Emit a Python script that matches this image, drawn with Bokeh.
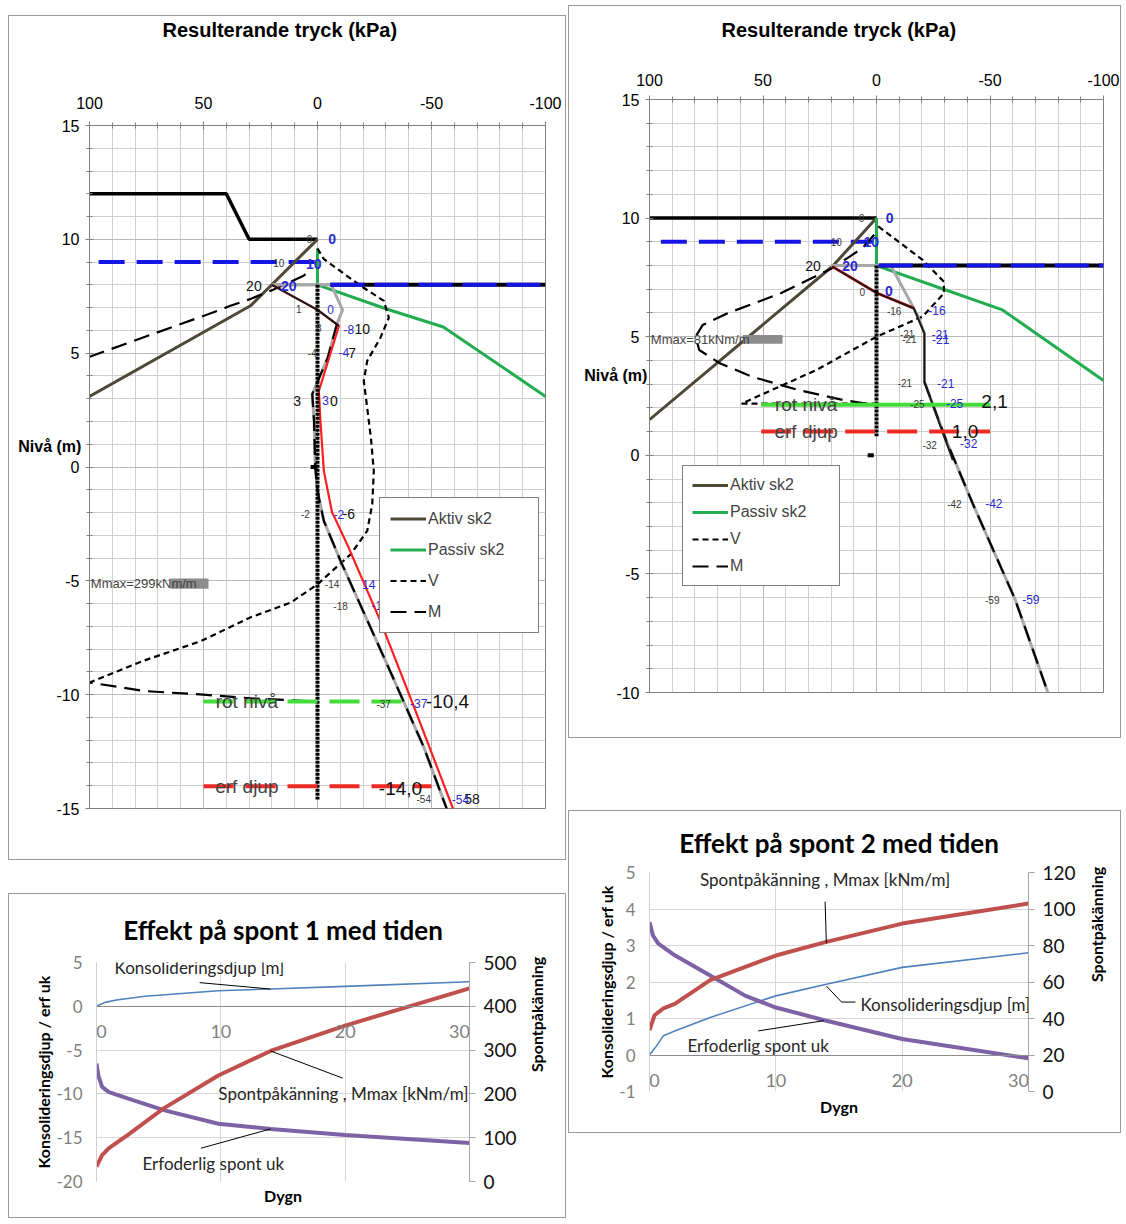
import numpy as np
from bokeh.plotting import figure
from bokeh.models import (Range1d, LinearAxis, SingleIntervalTicker, FixedTicker, Label, Legend,
                          LegendItem, Spacer, Title, NumeralTickFormatter)
from bokeh.layouts import row, column
from bokeh.embed import file_html
from bokeh.resources import INLINE
from bokeh.core.properties import value

# ====================== DATA: spont 1 (top-left) ======================
s1_mark_x = [100, 40, 30, 0]
s1_mark_y = [12, 12, 10, 10]
s1_gwl_x = [96, -1]
s1_gwl_y = [9, 9]
s1_gwr_x = [-5.7, -100]
s1_gwr_y = [8, 8]
s1_exc_x = [20, 0, -6]
s1_exc_y = [8, 8, 8]
s1_aktiv_x = [100, 29.4, 0]
s1_aktiv_y = [3.1, 7.08, 10]
s1_passiv_x = [0, 0, -30.6, -55.2, -100]
s1_passiv_y = [9.6, 8, 6.93, 6.15, 3.1]
s1_v_x = [0, -2.8, -18.9, -29.1, -31.3, -27.6, -21.8, -20.3, -21.8, -23.5, -24.7, -24, -21.8, -14.5, 0.1, 11.8, 29.3, 51, 76, 100, 125]
s1_v_y = [9.6, 9.13, 7.96, 7.3, 6.56, 5.68, 4.66, 3.78, 2.6, 1.2, -0.18, -1.64, -2.81, -3.84, -5.16, -5.96, -6.6, -7.64, -8.5, -9.47, -10.3]
s1_m_x = [5.3, 6.1, 19.2, 29.4, 38.2, 43.3, 98.1, 140, 140, 99.7, 76, 50, 29, 1]
s1_m_y = [8.47, 8.4, 7.8, 7.38, 7.08, 6.88, 4.91, 3.4, -9.3, -9.47, -9.84, -10.0, -10.16, -10.3]
s1_net_x = [20, 0, -6, -11, -8.6, -4.5, 2.3, 1.5, 1, 0, -0.6, -2.8, -10, -32, -46.6, -57]
s1_net_y = [8, 8, 8, 6.9, 6.3, 4.8, 3.2, 2, 0, -1, -1.35, -2.37, -4.1, -9.0, -12.3, -15.1]
s1_res_x = [20, 0, -9.4, -0.6, -1.3, -2.8, -6.4, -7.9, -13.7, -27.6, -40.8, -59.8]
s1_res_y = [8, 6.9, 6.2, 3.34, 2.0, -0.18, -2.0, -2.3, -3.55, -6.77, -10.14, -15.1]
s1_wall_x = [0, 0]
s1_wall_y = [8, -14.6]
s1_toe_x = [3, 0]
s1_toe_y = [0, 0]
s1_rot_x = [50, -42]
s1_rot_y = [-10.3, -10.3]
s1_erf_x = [50, -50]
s1_erf_y = [-14.02, -14.02]
s1_mmax_text = "Mmax=299kNm/m"
s1_mmax_bar = (64.5, 47.8, -4.9, -5.35)

s1_small_t = ["0", "10", "1", "8", "-4", "-2", "-14", "-18", "-37", "-54"]
s1_small_x = [3.5, 17, 8.2, -0.6, 2.3, 5.3, -6.4, -10.1, -29, -46.6]
s1_small_y = [10, 8.95, 6.93, 6.12, 5.02, -2.08, -5.16, -6.1, -10.4, -14.6]
s1_mid_t = ["20", "10", "7", "3", "0", "-6", "58"]
s1_mid_x = [27.9, -19.6, -15.2, 8.9, -7.2, -13.7, -67.8]
s1_mid_y = [7.96, 6.05, 5.02, 2.9, 2.9, -2.08, -14.6]
s1_blueb_t = ["0", "10", "20"]
s1_blueb_x = [-6.4, 1.6, 12.6]
s1_blueb_y = [10, 8.9, 7.96]
s1_blue_t = ["0", "-8", "-4", "3", "-2", "14", "-18", "-37", "-54"]
s1_blue_x = [-5.7, -13.7, -11.5, -3.5, -9.4, -22.5, -27.5, -44.4, -62.7]
s1_blue_y = [6.93, 6.05, 5.02, 2.9, -2.08, -5.16, -6.1, -10.4, -14.6]
s1_big_t = ["-10,4", "-14,0"]
s1_big_x = [-57, -36.4]
s1_big_y = [-10.3, -14.1]

# ====================== DATA: spont 2 (top-right) ======================
s2_mark_x = [100, 0]
s2_mark_y = [10, 10]
s2_gwl_x = [95, 2]
s2_gwl_y = [9, 9]
s2_gwr_x = [-1, -100]
s2_gwr_y = [8, 8]
s2_exc_x = [20, 0, -6.3]
s2_exc_y = [8, 8, 8]
s2_aktiv_x = [100, 19.5, 0]
s2_aktiv_y = [1.5, 7.96, 10]
s2_passiv_x = [0, 0, -30.5, -55.5, -100]
s2_passiv_y = [10, 8, 6.97, 6.13, 3.15]
s2_v_x = [-0.8, -20.3, -29.7, -29.7, -20.3, 0, 26.6, 59.4, 0]
s2_v_y = [9.65, 8.24, 7.32, 6.83, 5.85, 5.0, 3.59, 2.18, 2.18]
s2_m_x = [1, 6.25, 19.5, 42.2, 65.6, 76.6, 79.7, 78.1, 68.8, 54.7, 34.4, 14.1, 4.7]
s2_m_y = [9.3, 8.73, 7.89, 6.83, 5.99, 5.49, 5.0, 4.44, 3.87, 3.31, 2.75, 2.32, 2.18]
s2_net_x = [-6.3, -18, -21.1, -21.1, -30.7, -42.4, -61, -75.5]
s2_net_y = [8, 5.92, 5.14, 3.1, 0.63, -2.04, -6.06, -10]
s2_res_x = [19.5, 0, -16.4]
s2_res_y = [7.96, 6.85, 6.2]
s2_sol_x = [19.5, 0, -16.4, -21.1, -21.1, -33.6]
s2_sol_y = [7.96, 6.85, 6.2, 5.14, 3.1, -0.2]
s2_dash_x = [-21.1, -30.7, -42.4, -61, -75.5]
s2_dash_y = [3.1, 0.63, -2.04, -6.06, -10]
s2_wall_x = [0, 0]
s2_wall_y = [8, 0.8]
s2_toe_x = [3.9, 1.2]
s2_toe_y = [0, 0]
s2_rot_x = [50.8, -50]
s2_rot_y = [2.13, 2.13]
s2_erf_x = [50.8, -50]
s2_erf_y = [1.0, 1.0]
s2_mmax_text = "Mmax=81kNm/m"
s2_mmax_bar = (58.9, 41.4, 5.07, 4.7)

s2_small_t = ["0", "10", "0", "-16", "-21", "-21", "-21", "-25", "-32", "-42", "-59"]
s2_small_x = [6.6, 17.7, 6.3, -7.8, -13.5, -14.5, -12.5, -18, -23.4, -34.3, -51]
s2_small_y = [10, 9.0, 6.9, 6.1, 5.1, 4.9, 3.03, 2.18, 0.42, -2.04, -6.1]
s2_mid_t = ["20"]
s2_mid_x = [28]
s2_mid_y = [7.96]
s2_blueb_t = ["0", "10", "20", "0"]
s2_blueb_x = [-5.8, 2.3, 11.7, -5.5]
s2_blueb_y = [10, 9.0, 7.96, 6.93]
s2_blue_t = ["-16", "-21", "-21", "-21", "-25", "-32", "-42", "-59"]
s2_blue_x = [-26.6, -28, -28.3, -30.5, -34.4, -40.6, -51.7, -68]
s2_blue_y = [6.1, 5.1, 4.9, 3.03, 2.18, 0.5, -2.04, -6.1]
s2_big_t = ["2,1", "1,0"]
s2_big_x = [-52, -39]
s2_big_y = [2.25, 1.0]

# ====================== DATA: time charts ======================
t1_konsol_d = [0, 0.7, 1.6, 3.9, 9.8, 14, 20, 30]
t1_konsol_v = [0, 0.45, 0.72, 1.14, 1.78, 1.97, 2.27, 2.8]
t1_erf_d = [0, 0.15, 0.45, 1.0, 2.5, 5.4, 9.8, 14, 20, 30]
t1_erf_v = [-6.55, -7.9, -9.2, -9.8, -10.5, -11.85, -13.4, -14.0, -14.7, -15.6]
t1_mmax_d = [0, 0.45, 1.0, 2.5, 5.4, 9.8, 14, 20, 30]
t1_mmax_v = [34, 60, 76, 106, 167, 242, 298, 356, 441]

t2_konsol_d = [0, 0.56, 1.1, 2, 4.8, 10, 14, 20, 30]
t2_konsol_v = [0, 0.25, 0.53, 0.66, 1.03, 1.62, 1.94, 2.4, 2.8]
t2_erf_d = [0, 0.28, 0.7, 2, 4.8, 7.6, 10, 14, 20, 30]
t2_erf_v = [3.64, 3.27, 3.05, 2.73, 2.18, 1.62, 1.3, 0.94, 0.44, -0.09]
t2_mmax_d = [0, 0.4, 1.1, 2, 4.8, 10, 14, 20, 30]
t2_mmax_v = [33.6, 41.8, 45.5, 48, 61, 74.5, 82, 92, 103]

# day-axis tick labels (the edge labels sit just inside the plot area so they are not cut)
day_tick_pos = [0.4, 10, 20, 29.2]
day_tick_txt = ["0", "10", "20", "30"]

AX_FONT = "Liberation Sans"
TFONT = "Lato"
C_AKTIV = "#4f4836"
C_PASSIV = "#22ad50"
C_BLUE = "#1414e6"
C_LBLUE = "#2a2ad0"
C_RED = "#ff1e1e"
C_GRAY = "#a8a8a8"
C_GREEN = "#45dc3a"
C_ERF = "#ee2a24"


def try_set(obj, **kw):
    ok = True
    for k, v in kw.items():
        try:
            setattr(obj, k, v)
        except Exception:
            ok = False
    return ok


def pressure_fig(w, h, bl, br, bt, bb, ymin, xstand):
    p = figure(width=w, height=h, x_range=Range1d(100, -100), y_range=Range1d(ymin, 15),
               x_axis_location="above", output_backend="svg", toolbar_location=None,
               min_border_left=bl, min_border_right=br, min_border_top=bt, min_border_bottom=bb,
               title=None)
    try_set(p, frame_align=False)
    p.styles = {"border": "1px solid #9a9a9a"}
    p.outline_line_color = "#808080"
    p.xaxis.ticker = SingleIntervalTicker(interval=50, num_minor_ticks=5)
    p.yaxis.ticker = SingleIntervalTicker(interval=5, num_minor_ticks=5)
    for ax in (p.xaxis[0], p.yaxis[0]):
        ax.formatter = NumeralTickFormatter(format="0")
        ax.axis_line_color = "#808080"
        ax.major_tick_line_color = "#808080"
        ax.minor_tick_line_color = "#808080"
        ax.major_tick_in = 4
        ax.major_tick_out = 4
        ax.minor_tick_in = 3
        ax.minor_tick_out = 3
        ax.major_label_text_font = AX_FONT
        ax.major_label_text_font_size = "16px"
        ax.major_label_text_color = "#000000"
    p.xaxis.major_label_standoff = xstand
    p.yaxis.major_label_standoff = 6
    for g in (p.xgrid[0], p.ygrid[0]):
        g.grid_line_color = "#b8b8b8"
        g.minor_grid_line_color = "#cfcfcf"
    return p


def draw_texts(p, t, x, y, size, color, bold=False):
    p.text(x=x, y=y, text=t, text_font=value(AX_FONT), text_font_size=size,
           text_color=color, text_align="center", text_baseline="middle",
           text_font_style="bold" if bold else "normal")


def pressure_panel(p, d, title_offset, title_text, title_standoff, title_lh, nivaa_standoff,
                   legend_loc, legend_fmt, rot_dash):
    p.line(d["mark_x"], d["mark_y"], line_color="black", line_width=3.5)
    p.line(d["gwl_x"], d["gwl_y"], line_color=C_BLUE, line_width=4, line_dash="26 12")
    ra = p.line(d["aktiv_x"], d["aktiv_y"], line_color=C_AKTIV, line_width=3)
    rp = p.line(d["passiv_x"], d["passiv_y"], line_color=C_PASSIV, line_width=3)
    rv = p.line(d["v_x"], d["v_y"], line_color="black", line_width=2.2, line_dash="6 4")
    rm = p.line(d["m_x"], d["m_y"], line_color="black", line_width=2.2, line_dash="16 8")
    p.line(d["exc_x"], d["exc_y"], line_color=C_GRAY, line_width=3)
    p.line(d["net_x"], d["net_y"], line_color=C_GRAY, line_width=3)
    for k in d["extra"]:
        k(p)
    p.line(d["wall_x"], d["wall_y"], line_color="black", line_width=4, line_dash="3 1")
    p.line(d["toe_x"], d["toe_y"], line_color="black", line_width=4)
    p.line(d["gwr_x"], d["gwr_y"], line_color="black", line_width=4)
    p.line(d["gwr_x"], d["gwr_y"], line_color=C_BLUE, line_width=4, line_dash="34 10")
    p.line(d["rot_x"], d["rot_y"], line_color=C_GREEN, line_width=4, line_dash=rot_dash)
    p.line(d["erf_x"], d["erf_y"], line_color=C_ERF, line_width=4, line_dash="30 12")
    # labels
    draw_texts(p, d["small_t"], d["small_x"], d["small_y"], "10px", "#3a3a3a")
    draw_texts(p, d["mid_t"], d["mid_x"], d["mid_y"], "14px", "#111111")
    draw_texts(p, d["blueb_t"], d["blueb_x"], d["blueb_y"], "14px", C_LBLUE, bold=True)
    draw_texts(p, d["blue_t"], d["blue_x"], d["blue_y"], "12px", C_LBLUE)
    draw_texts(p, d["big_t"], d["big_x"], d["big_y"], "19px", "#111111")
    p.add_layout(Label(x=31, y=d["rot_y"][0], text="rot nivå", text_font=AX_FONT,
                       text_font_size="19px", text_align="center", text_baseline="middle"))
    p.add_layout(Label(x=31, y=d["erf_y"][0], text="erf djup", text_font=AX_FONT,
                       text_font_size="19px", text_align="center", text_baseline="middle"))
    # Mmax
    b = d["mmax_bar"]
    p.quad(left=b[0], right=b[1], top=b[2], bottom=b[3], fill_color="#8c8c8c", line_color=None)
    p.add_layout(Label(x=99.4, y=(b[2] + b[3]) / 2, text=d["mmax_text"], text_font=AX_FONT,
                       text_font_size="13px", text_align="left", text_baseline="middle"))
    # title
    t = Title(text=title_text, align="left", offset=title_offset,
              standoff=title_standoff, text_font=AX_FONT, text_line_height=title_lh,
              text_font_size="20px", text_font_style="bold", text_color="black")
    p.add_layout(t, "above")
    # y axis title (horizontal, sitting above the 0 tick label)
    ya = p.yaxis[0]
    ya.axis_label = "Nivå (m)\n\n"
    ya.axis_label_text_font = AX_FONT
    ya.axis_label_text_font_size = "16px"
    ya.axis_label_text_font_style = "bold"
    ya.axis_label_text_color = "black"
    if try_set(ya, axis_label_orientation="horizontal"):
        ya.axis_label_standoff = nivaa_standoff
    leg = Legend(items=[LegendItem(label="Aktiv sk2", renderers=[ra]),
                        LegendItem(label="Passiv sk2", renderers=[rp]),
                        LegendItem(label="V", renderers=[rv]),
                        LegendItem(label="M", renderers=[rm])],
                 location=legend_loc)
    leg.border_line_color = "black"
    leg.border_line_width = 1
    leg.background_fill_color = "white"
    leg.background_fill_alpha = 1
    leg.label_text_font = AX_FONT
    leg.label_text_font_size = "16px"
    leg.glyph_width = 36
    leg.glyph_height = legend_fmt[0]
    leg.spacing = legend_fmt[1]
    leg.padding = legend_fmt[2]
    leg.label_standoff = 2
    leg.label_width = 100
    leg.margin = 0
    p.add_layout(leg)


# ---- top-left
tl = pressure_fig(558, 845, 80, 22, 109, 53, -15, 13)


def s1_extra(p):
    p.line(s1_net_x[4:], s1_net_y[4:], line_color="black", line_width=2.2, line_dash="16 8")
    p.line(s1_res_x, s1_res_y, line_color=C_RED, line_width=2.2)
    p.line(s1_res_x[:3], s1_res_y[:3], line_color="#1a1a1a", line_width=2)


d1 = dict(mark_x=s1_mark_x, mark_y=s1_mark_y, gwl_x=s1_gwl_x, gwl_y=s1_gwl_y,
          gwr_x=s1_gwr_x, gwr_y=s1_gwr_y, exc_x=s1_exc_x, exc_y=s1_exc_y,
          aktiv_x=s1_aktiv_x, aktiv_y=s1_aktiv_y, passiv_x=s1_passiv_x, passiv_y=s1_passiv_y,
          v_x=s1_v_x, v_y=s1_v_y, m_x=s1_m_x, m_y=s1_m_y, net_x=s1_net_x, net_y=s1_net_y,
          wall_x=s1_wall_x, wall_y=s1_wall_y, toe_x=s1_toe_x, toe_y=s1_toe_y,
          rot_x=s1_rot_x, rot_y=s1_rot_y, erf_x=s1_erf_x, erf_y=s1_erf_y,
          mmax_text=s1_mmax_text, mmax_bar=s1_mmax_bar,
          small_t=s1_small_t, small_x=s1_small_x, small_y=s1_small_y,
          mid_t=s1_mid_t, mid_x=s1_mid_x, mid_y=s1_mid_y,
          blueb_t=s1_blueb_t, blueb_x=s1_blueb_x, blueb_y=s1_blueb_y,
          blue_t=s1_blue_t, blue_x=s1_blue_x, blue_y=s1_blue_y,
          big_t=s1_big_t, big_x=s1_big_x, big_y=s1_big_y, extra=[s1_extra])
pressure_panel(tl, d1, 73, "Resulterande tryck (kPa)\n\n", 0, 1.2, -28, (290, 175), (21, 10, 10), "30 12")

# ---- top-right
tr = pressure_fig(553, 733, 80, 19, 93, 47, -10, 10)


def s2_extra(p):
    p.line(s2_dash_x, s2_dash_y, line_color="black", line_width=2.2, line_dash="16 8")
    p.line(s2_res_x, s2_res_y, line_color=C_RED, line_width=3)
    p.line(s2_sol_x, s2_sol_y, line_color="#1a1a1a", line_width=2)


d2 = dict(mark_x=s2_mark_x, mark_y=s2_mark_y, gwl_x=s2_gwl_x, gwl_y=s2_gwl_y,
          gwr_x=s2_gwr_x, gwr_y=s2_gwr_y, exc_x=s2_exc_x, exc_y=s2_exc_y,
          aktiv_x=s2_aktiv_x, aktiv_y=s2_aktiv_y, passiv_x=s2_passiv_x, passiv_y=s2_passiv_y,
          v_x=s2_v_x, v_y=s2_v_y, m_x=s2_m_x, m_y=s2_m_y, net_x=s2_net_x, net_y=s2_net_y,
          wall_x=s2_wall_x, wall_y=s2_wall_y, toe_x=s2_toe_x, toe_y=s2_toe_y,
          rot_x=s2_rot_x, rot_y=s2_rot_y, erf_x=s2_erf_x, erf_y=s2_erf_y,
          mmax_text=s2_mmax_text, mmax_bar=s2_mmax_bar,
          small_t=s2_small_t, small_x=s2_small_x, small_y=s2_small_y,
          mid_t=s2_mid_t, mid_x=s2_mid_x, mid_y=s2_mid_y,
          blueb_t=s2_blueb_t, blueb_x=s2_blueb_x, blueb_y=s2_blueb_y,
          blue_t=s2_blue_t, blue_x=s2_blue_x, blue_y=s2_blue_y,
          big_t=s2_big_t, big_x=s2_big_x, big_y=s2_big_y, extra=[s2_extra])
pressure_panel(tr, d2, 72, "Resulterande tryck (kPa)\n", 16, 1.0, -34, (33, 106), (20, 7, 9), "solid")


# ====================== time charts ======================
def time_fig(w, h, bl, br, bt, bb, yr, yint, rr, rint, lstand, rstand):
    p = figure(width=w, height=h, x_range=Range1d(0, 30), y_range=Range1d(*yr),
               output_backend="svg", toolbar_location=None, title=None,
               min_border_left=bl, min_border_right=br, min_border_top=bt, min_border_bottom=bb)
    try_set(p, frame_align=False)
    p.styles = {"border": "1px solid #9a9a9a"}
    p.outline_line_color = None
    p.extra_y_ranges = {"r": Range1d(*rr)}
    ra = LinearAxis(y_range_name="r", ticker=SingleIntervalTicker(interval=rint))
    p.add_layout(ra, "right")
    p.xaxis.ticker = FixedTicker(ticks=day_tick_pos)
    p.xaxis.major_label_overrides = dict(zip(day_tick_pos, day_tick_txt))
    p.xgrid.ticker = SingleIntervalTicker(interval=10)
    p.yaxis[0].ticker = SingleIntervalTicker(interval=yint)
    p.xaxis.fixed_location = 0
    xa = p.xaxis[0]
    xa.axis_line_color = "#8c8c8c"
    xa.major_tick_line_color = None
    xa.minor_tick_line_color = None
    xa.major_label_text_color = "#7f7f7f"
    xa.major_label_text_font = TFONT
    xa.major_label_text_font_size = "18px"
    xa.major_label_standoff = 13
    ya = p.yaxis[0]
    ya.formatter = NumeralTickFormatter(format="0")
    ya.axis_line_color = "#d0d0d0"
    ya.major_tick_line_color = None
    ya.minor_tick_line_color = None
    ya.major_label_text_color = "#7f7f7f"
    ya.major_label_text_font = TFONT
    ya.major_label_text_font_size = "17px"
    ya.major_label_standoff = 8
    ya.axis_label = "Konsolideringsdjup / erf uk"
    ya.axis_label_text_font = TFONT
    ya.axis_label_text_font_size = "16px"
    ya.axis_label_text_font_style = "bold"
    ya.axis_label_text_color = "black"
    ya.axis_label_standoff = lstand
    ra.formatter = NumeralTickFormatter(format="0")
    ra.axis_line_color = "#a6a6a6"
    ra.major_tick_line_color = "#a6a6a6"
    ra.major_tick_in = 0
    ra.major_tick_out = 6
    ra.minor_tick_line_color = None
    ra.major_label_text_color = "#111111"
    ra.major_label_text_font = TFONT
    ra.major_label_text_font_size = "19px"
    ra.major_label_standoff = 8
    ra.axis_label = "Spontpåkänning"
    ra.axis_label_text_font = TFONT
    ra.axis_label_text_font_size = "16px"
    ra.axis_label_text_font_style = "bold"
    ra.axis_label_text_color = "black"
    ra.axis_label_standoff = rstand
    try_set(ra, axis_label_orientation=np.pi / 2)
    p.xgrid.grid_line_color = "#d6d6d6"
    p.ygrid.grid_line_color = "#d6d6d6"
    return p


def time_panel(p, title, title_standoff, dygn_standoff, data, notes):
    kd, kv, ed, ev, md, mv = data
    p.line(kd, kv, line_color="#4f81bd", line_width=1.6)
    p.line(ed, ev, line_color="#7e62a6", line_width=4)
    p.line(md, mv, line_color="#c0504d", line_width=4, y_range_name="r")
    for (txt, tx, ty, lx, ly) in notes:
        p.line(lx, ly, line_color="black", line_width=1)
        p.add_layout(Label(x=tx, y=ty, text=txt, text_font=TFONT, text_font_size="17px",
                           text_align="left", text_baseline="middle", text_color="#262626"))
    p.add_layout(Title(text=title, align="center", standoff=title_standoff,
                       text_font=TFONT, text_font_size="26px", text_font_style="bold",
                       text_color="black"), "above")
    p.add_layout(Title(text="Dygn", align="center", standoff=dygn_standoff, text_font=TFONT,
                       text_font_size="16px", text_font_style="bold", text_color="black"), "below")


bl = time_fig(558, 325, 87, 98, 67, 38, (-20, 5), 5, (0, 500), 100, 0, 17)
time_panel(bl, "Effekt på spont 1 med tiden", 34, 5,
           (t1_konsol_d, t1_konsol_v, t1_erf_d, t1_erf_v, t1_mmax_d, t1_mmax_v),
           [("Konsolideringsdjup [m]", 1.45, 4.43, [8.3, 14], [2.7, 1.97]),
            ("Spontpåkänning , Mmax [kNm/m]", 9.8, -10.0, [14, 19.8], [-5.1, -8.2]),
            ("Erfoderlig spont uk", 3.7, -17.95, [8.4, 14], [-16.2, -14.0])])

br = time_fig(553, 323, 80, 94, 60, 43, (-1, 5), 1, (0, 120), 20, 0, 18)
time_panel(br, "Effekt på spont 2 med tiden", 27, 6,
           (t2_konsol_d, t2_konsol_v, t2_erf_d, t2_erf_v, t2_mmax_d, t2_mmax_v),
           [("Spontpåkänning , Mmax [kNm/m]", 4.0, 4.8, [13.9, 14], [4.2, 3.06]),
            ("Konsolideringsdjup [m]", 16.7, 1.39, [14, 15.2, 16.3], [1.89, 1.45, 1.45]),
            ("Erfoderlig spont uk", 3.0, 0.25, [8.6, 13.8], [0.66, 0.94])])

left = column(Spacer(width=10, height=15), tl, Spacer(width=10, height=33), bl)
right = column(Spacer(width=10, height=5), tr, Spacer(width=10, height=72), br)
layout = row(Spacer(width=8, height=10), left, Spacer(width=2, height=10), right)

open("out.html", "w").write(file_html(layout, INLINE))
